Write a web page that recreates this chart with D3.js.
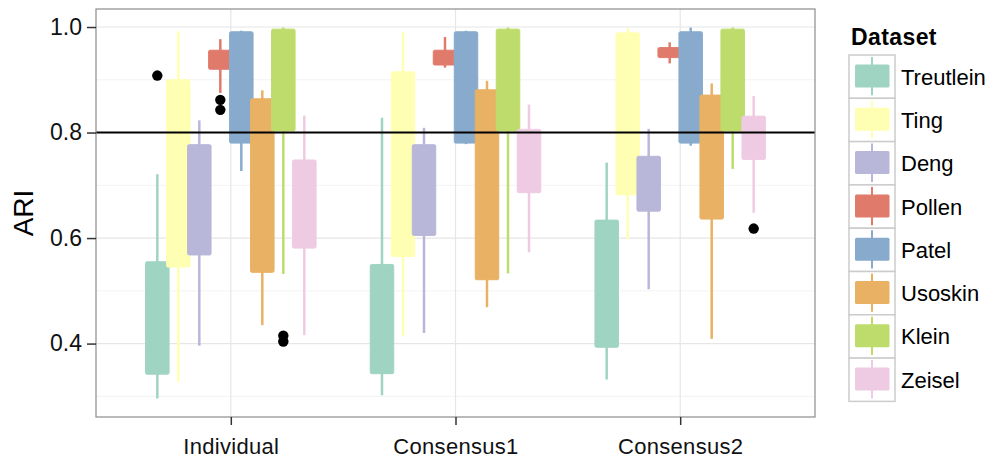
<!DOCTYPE html>
<html>
<head>
<meta charset="utf-8">
<script src="https://cdn.jsdelivr.net/npm/d3@7"></script>
<style>
  body { margin: 0; background: #fff; }
  svg { display: block; font-family: 'Liberation Sans', Arial, Helvetica, sans-serif; }
</style>
</head>
<body>
<svg id="chart" width="997" height="464"></svg>
<script>
const methods = ['Individual', 'Consensus1', 'Consensus2']
const datasets = ['Treutlein', 'Ting', 'Deng', 'Pollen', 'Patel', 'Usoskin', 'Klein', 'Zeisel']
const colors = ['#9fd4c3', '#ffffb3', '#b9b7d9', '#e07b6c', '#88abcd', '#e9b163', '#bddc6c', '#eecbe2']

// one row per method, one column per dataset
const whiskerLow = [
  [0.296, 0.327, 0.396, 0.875, 0.727, 0.435, 0.532, 0.416],
  [0.302, 0.414, 0.420, 0.923, 0.778, 0.469, 0.533, 0.573],
  [0.332, 0.598, 0.503, 0.931, 0.775, 0.409, 0.731, 0.648],
]
const boxLow = [
  [0.342, 0.545, 0.568, 0.920, 0.780, 0.535, 0.803, 0.581],
  [0.343, 0.565, 0.605, 0.928, 0.780, 0.521, 0.803, 0.686],
  [0.393, 0.682, 0.651, 0.942, 0.780, 0.636, 0.803, 0.749],
]
const boxHigh = [
  [0.555, 0.900, 0.777, 0.956, 0.991, 0.864, 0.996, 0.748],
  [0.550, 0.915, 0.777, 0.956, 0.991, 0.881, 0.996, 0.806],
  [0.634, 0.989, 0.755, 0.961, 0.991, 0.871, 0.996, 0.831],
]
const whiskerHigh = [
  [0.721, 0.992, 0.823, 0.977, 0.993, 0.880, 0.999, 0.832],
  [0.828, 0.991, 0.809, 0.981, 0.993, 0.898, 0.999, 0.853],
  [0.743, 0.997, 0.807, 0.971, 0.999, 0.893, 0.999, 0.869],
]
const outliers = [
  ['Individual', 'Treutlein', 0.908],
  ['Individual', 'Pollen', 0.862],
  ['Individual', 'Pollen', 0.843],
  ['Individual', 'Klein', 0.415],
  ['Individual', 'Klein', 0.404],
  ['Consensus2', 'Zeisel', 0.618],
]
const yTicks = [0.4, 0.6, 0.8, 1.0]
const yMinorTicks = [0.3, 0.5, 0.7, 0.9]
const refLine = 0.8

const svg = d3.select('#chart')
const panel = {left: 96, right: 815, top: 9, bottom: 417}

const boxes = []
methods.forEach((m, i) => {
  datasets.forEach((d, j) => {
    boxes.push({
      method: m, dataset: d, color: colors[j],
      wLow: whiskerLow[i][j], q1: boxLow[i][j], q3: boxHigh[i][j], wHigh: whiskerHigh[i][j],
    })
  })
})

const allValues = boxes.flatMap((b) => [b.wLow, b.wHigh]).concat(outliers.map((o) => o[2]))
const yMin = d3.min(allValues)
const yMax = d3.max(allValues)
const pad = (yMax - yMin) * 0.05

const y = d3.scaleLinear().domain([yMin - pad, yMax + pad]).range([panel.bottom, panel.top])
const x = d3.scalePoint().domain(methods).range([panel.left, panel.right]).padding(0.6)
const xInner = d3.scaleBand().domain(datasets).range([-84, 84])
const color = d3.scaleOrdinal().domain(datasets).range(colors)
const boxWidth = 23.5

// panel + grid
svg.append('rect')
  .attr('x', panel.left).attr('y', panel.top)
  .attr('width', panel.right - panel.left).attr('height', panel.bottom - panel.top)
  .attr('fill', '#fff')

const grid = svg.append('g')
grid.selectAll('.minor').data(yMinorTicks).enter().append('line')
  .attr('x1', panel.left).attr('x2', panel.right)
  .attr('y1', (d) => y(d)).attr('y2', (d) => y(d))
  .attr('stroke', '#f3f3f3').attr('stroke-width', 1)
grid.selectAll('.major').data(yTicks).enter().append('line')
  .attr('x1', panel.left).attr('x2', panel.right)
  .attr('y1', (d) => y(d)).attr('y2', (d) => y(d))
  .attr('stroke', '#e6e6e6').attr('stroke-width', 1.2)
grid.selectAll('.vmajor').data(methods).enter().append('line')
  .attr('x1', (d) => x(d)).attr('x2', (d) => x(d))
  .attr('y1', panel.top).attr('y2', panel.bottom)
  .attr('stroke', '#e6e6e6').attr('stroke-width', 1.2)

// boxes
const g = svg.append('g')
boxes.forEach((b) => {
  const cx = x(b.method) + xInner(b.dataset) + xInner.bandwidth() / 2
  g.append('line')
    .attr('x1', cx).attr('x2', cx)
    .attr('y1', y(b.wLow)).attr('y2', y(b.wHigh))
    .attr('stroke', b.color).attr('stroke-width', 2.5)
  g.append('rect')
    .attr('x', cx - boxWidth / 2).attr('width', boxWidth)
    .attr('y', y(b.q3)).attr('height', y(b.q1) - y(b.q3))
    .attr('rx', 1.5)
    .attr('fill', b.color).attr('stroke', b.color).attr('stroke-width', 1)
  outliers.filter((o) => o[0] === b.method && o[1] === b.dataset).forEach((o) => {
    g.append('circle')
      .attr('cx', cx).attr('cy', y(o[2])).attr('r', 5.2)
      .attr('fill', '#000')
  })
})

svg.append('line')
  .attr('x1', panel.left).attr('x2', panel.right)
  .attr('y1', y(refLine)).attr('y2', y(refLine))
  .attr('stroke', '#000').attr('stroke-width', 2)

svg.append('rect')
  .attr('x', panel.left).attr('y', panel.top)
  .attr('width', panel.right - panel.left).attr('height', panel.bottom - panel.top)
  .attr('fill', 'none').attr('stroke', '#8c8c8c').attr('stroke-width', 1.2)

// axes
const yAxis = svg.append('g')
  .attr('transform', `translate(${panel.left},0)`)
  .call(d3.axisLeft(y).tickValues(yTicks).tickFormat(d3.format('.1f')).tickSize(9).tickPadding(5))
const xAxis = svg.append('g')
  .attr('transform', `translate(0,${panel.bottom})`)
  .call(d3.axisBottom(x).tickSize(8).tickPadding(13))
;[yAxis, xAxis].forEach((a) => {
  a.select('.domain').remove()
  a.selectAll('.tick line').attr('stroke', '#333').attr('stroke-width', 1.5)
  a.selectAll('.tick text').attr('fill', '#111').attr('font-size', 22)
    .attr('font-family', 'Liberation Sans, Arial, sans-serif')
})
yAxis.selectAll('.tick text').attr('font-size', 23)
xAxis.selectAll('.tick text').attr('letter-spacing', 0.3)

svg.append('text')
  .attr('transform', `translate(33,${(panel.top + panel.bottom) / 2}) rotate(-90)`)
  .attr('text-anchor', 'middle')
  .attr('font-size', 28)
  .attr('fill', '#000')
  .text('ARI')

// legend
const legend = svg.append('g').attr('transform', 'translate(849,0)')
legend.append('text')
  .attr('x', 2).attr('y', 45)
  .attr('font-size', 23).attr('font-weight', 'bold')
  .attr('letter-spacing', 0.4)
  .text('Dataset')

const keyH = 43.3
const keys = legend.selectAll('.key').data(datasets).enter().append('g')
  .attr('transform', (d, i) => `translate(0,${55 + i * keyH})`)
keys.append('rect')
  .attr('width', 46).attr('height', keyH)
  .attr('fill', '#fff').attr('stroke', '#cccccc').attr('stroke-width', 1.5)
keys.append('line')
  .attr('x1', 23).attr('x2', 23).attr('y1', 2).attr('y2', keyH - 3)
  .attr('stroke', (d) => color(d)).attr('stroke-width', 2)
keys.append('rect')
  .attr('x', 6).attr('y', 9.5).attr('width', 34.5).attr('height', 23)
  .attr('rx', 1.5)
  .attr('fill', (d) => color(d))
keys.append('text')
  .attr('x', 52).attr('y', keyH / 2 + 8)
  .attr('font-size', 22)
  .text((d) => d)
</script>
</body>
</html>
